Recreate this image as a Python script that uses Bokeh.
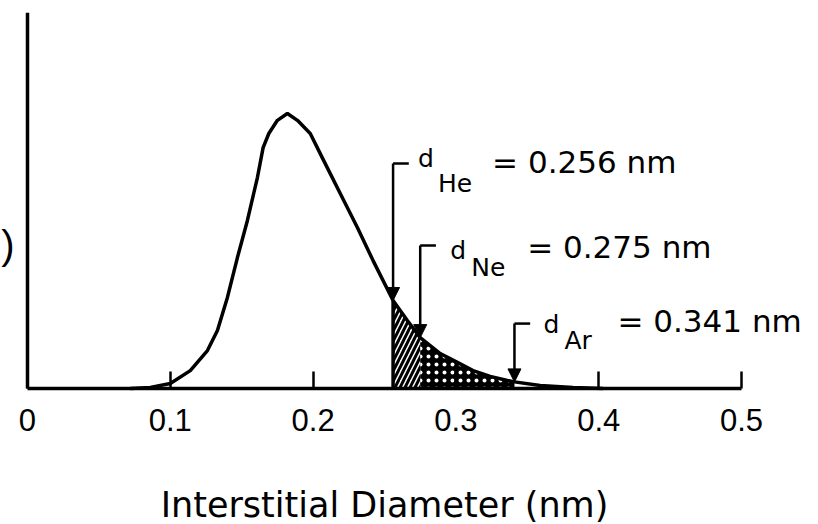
import numpy as np
from bokeh.plotting import figure
from bokeh.models import Arrow, NormalHead, FixedTicker
from bokeh.core.properties import value
from bokeh.embed import file_html
from bokeh.resources import INLINE

# ---- data ----
diam = [0.072, 0.086, 0.100, 0.114, 0.126, 0.133, 0.140, 0.147, 0.154, 0.161,
        0.165, 0.169, 0.175, 0.182, 0.189, 0.198, 0.207, 0.219, 0.231, 0.242,
        0.256, 0.266, 0.275, 0.289, 0.301, 0.312, 0.324, 0.336, 0.341, 0.359,
        0.382, 0.403]
freq = [0.000, 0.004, 0.018, 0.065, 0.138, 0.211, 0.331, 0.476, 0.611, 0.767,
        0.876, 0.927, 0.975, 1.000, 0.975, 0.927, 0.833, 0.709, 0.585, 0.465,
        0.320, 0.247, 0.185, 0.127, 0.095, 0.065, 0.044, 0.029, 0.024, 0.011,
        0.004, 0.000]

gases = ["He", "Ne", "Ar"]
gas_diam = [0.256, 0.275, 0.341]

tick_values = [0.0, 0.1, 0.2, 0.3, 0.4, 0.5]
tick_labels = ["0", "0.1", "0.2", "0.3", "0.4", "0.5"]
x_label = "Interstitial Diameter (nm)"
y_label_tail = ")"

# ---- layout constants ----
x_left, x_right = -0.0189, 0.5483        # room left of the y axis for its text
y_top = 1.367
y_bottom = -0.4945                       # room under the x axis for its texts
bracket_top = [0.818, 0.520, 0.236]      # y (in plot units) of the bracket tops
d_dx = [25, 30, 29]; d_dy = [-5, 5, 1]
sub_dx = [45, 51, 50]; sub_dy = [20, 22, 17]
main_dx = [99, 107, 103]; main_dy = [-2, 2, -3]
stub = 0.011
y_tail_pos = 0.52
x_label_y = -0.425

p = figure(width=810, height=524, x_range=(x_left, x_right), y_range=(y_bottom, y_top),
           output_backend="svg", toolbar_location=None,
           min_border_left=0, min_border_right=0, min_border_top=12,
           min_border_bottom=0)
p.outline_line_color = None
p.xgrid.visible = False
p.ygrid.visible = False
p.background_fill_color = "white"
p.border_fill_color = "white"

# x axis, fixed at y = 0
xa = p.xaxis[0]
xa.fixed_location = 0
xa.bounds = (tick_values[0], tick_values[-1])
xa.ticker = FixedTicker(ticks=tick_values)
xa.major_label_overrides = {t: l for t, l in zip(tick_values, tick_labels)}
xa.minor_tick_line_color = None
xa.major_tick_in = 17
xa.major_tick_out = 0
xa.major_tick_line_width = 2.5
xa.major_tick_line_color = "black"
xa.axis_line_width = 3.5
xa.axis_line_color = "black"
xa.major_label_text_font = "Liberation Sans"
xa.major_label_text_font_size = "31px"
xa.major_label_text_color = "black"
xa.major_label_standoff = 21

# x label, centred under the 0 - 0.5 axis
p.text(x=[(tick_values[0] + tick_values[-1]) / 2], y=[x_label_y], text=[x_label],
       text_font=value("DejaVu Sans"), text_font_size="35px", text_color="black",
       text_align="center", text_baseline="alphabetic")

# y axis, fixed at x = 0: plain line, with the cropped label tail
ya = p.yaxis[0]
ya.fixed_location = 0
ya.bounds = (0, y_top)
ya.ticker = FixedTicker(ticks=[y_tail_pos])
ya.major_label_overrides = {y_tail_pos: y_label_tail}
ya.minor_tick_line_color = None
ya.major_tick_line_color = None
ya.major_tick_out = 0
ya.major_tick_in = 0
ya.major_label_standoff = 13
ya.major_label_text_font = "Liberation Sans"
ya.major_label_text_font_size = "40px"
ya.major_label_text_color = "black"
ya.axis_line_width = 3.5
ya.axis_line_color = "black"

# shaded regions
d = np.array(diam); f = np.array(freq)
m1 = (d >= gas_diam[0]) & (d <= gas_diam[1])
m2 = (d >= gas_diam[1]) & (d <= gas_diam[2])
p.varea(x=d[m1], y1=0, y2=f[m1], fill_color="white",
        hatch_pattern="/", hatch_color="black", hatch_weight=3, hatch_scale=10)
p.varea(x=d[m2], y1=0, y2=f[m2], fill_color="black",
        hatch_pattern=".", hatch_color="white", hatch_weight=3, hatch_scale=8)

# left border of hatched region
tips = [float(np.interp(g, diam, freq)) for g in gas_diam]
p.segment(x0=[gas_diam[0]], y0=[0], x1=[gas_diam[0]], y1=[tips[0]],
          line_color="black", line_width=3.5)

# curve
p.line(diam, freq, line_color="black", line_width=3.5)

# arrows with bracket stubs
for g, top, tip in zip(gas_diam, bracket_top, tips):
    p.add_layout(Arrow(end=NormalHead(size=13, fill_color="black", line_color="black"),
                       x_start=g, y_start=top, x_end=g, y_end=tip,
                       line_color="black", line_width=2.5))
p.segment(x0=gas_diam, y0=bracket_top, x1=[g + stub for g in gas_diam], y1=bracket_top,
          line_color="black", line_width=2.5)

# annotation texts
p.text(x=gas_diam, y=bracket_top, text=["d"] * 3, x_offset=d_dx, y_offset=d_dy,
       text_font=value("DejaVu Sans"), text_font_size="25px", text_color="black",
       text_baseline="alphabetic", text_align="left")
p.text(x=gas_diam, y=bracket_top, text=gases, x_offset=sub_dx, y_offset=sub_dy,
       text_font=value("DejaVu Sans"), text_font_size="25px", text_color="black",
       text_baseline="alphabetic", text_align="left")
p.text(x=gas_diam, y=bracket_top, text=[f"= {g:.3f} nm" for g in gas_diam],
       x_offset=main_dx, y_offset=main_dy,
       text_font=value("DejaVu Sans"), text_font_size="31px", text_color="black",
       text_baseline="alphabetic", text_align="left")

open("out.html", "w").write(file_html(p, INLINE))
